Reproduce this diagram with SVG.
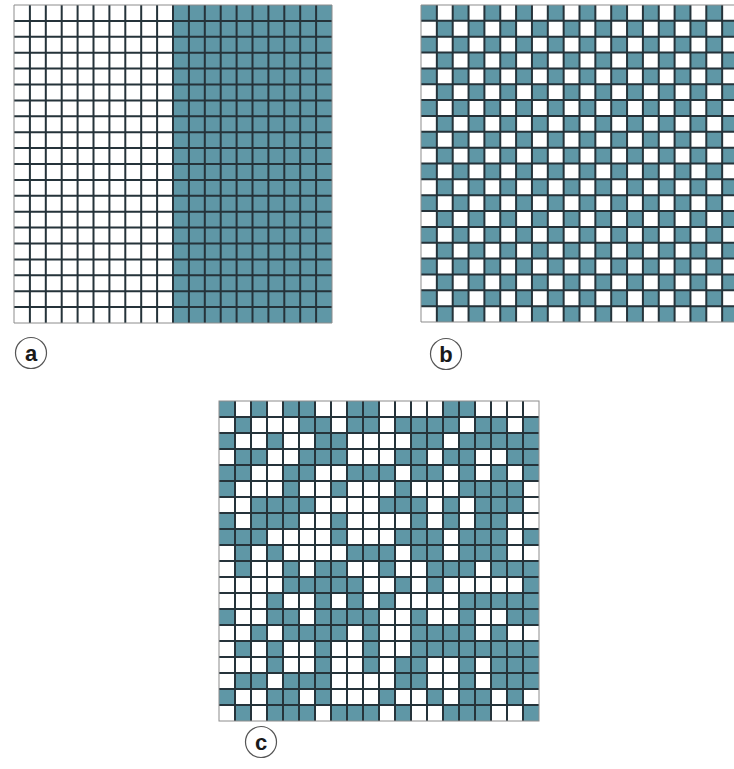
<svg xmlns="http://www.w3.org/2000/svg" xmlns:xlink="http://www.w3.org/1999/xlink" width="734" height="769" viewBox="0 0 734 769">
<style>
.t{fill:#5f97a6}
.gl{fill:none;stroke:#25333a;stroke-width:2}
.bd{fill:none;stroke:#8c8c8c;stroke-width:1}
.lc{fill:#fff;stroke:#555;stroke-width:1.2}
.lt{font-family:"Liberation Sans",Arial,sans-serif;font-weight:bold;font-size:22px;fill:#1a1a1a;text-anchor:middle}
</style>
<defs>
<pattern id="chk" patternUnits="userSpaceOnUse" x="0" y="0" width="32" height="32">
<rect class="t" x="0" y="0" width="16" height="16"/>
<rect class="t" x="16" y="16" width="16" height="16"/>
</pattern>
<path id="gridlines" vector-effect="non-scaling-stroke" d="M16 0V320M32 0V320M48 0V320M64 0V320M80 0V320M96 0V320M112 0V320M128 0V320M144 0V320M160 0V320M176 0V320M192 0V320M208 0V320M224 0V320M240 0V320M256 0V320M272 0V320M288 0V320M304 0V320M0 16H320M0 32H320M0 48H320M0 64H320M0 80H320M0 96H320M0 112H320M0 128H320M0 144H320M0 160H320M0 176H320M0 192H320M0 208H320M0 224H320M0 240H320M0 256H320M0 272H320M0 288H320M0 304H320"/>
</defs>
<rect width="734" height="769" fill="#fff"/>

<g id="grid-a" transform="translate(14,5) scale(0.99375)">
<rect x="0" y="0" width="320" height="320" fill="#fff"/>
<rect class="t" x="160" y="0" width="160" height="320"/>
<use xlink:href="#gridlines" href="#gridlines" class="gl"/>
<rect class="bd" x="0" y="0" width="320" height="320" vector-effect="non-scaling-stroke"/>
</g>

<g id="grid-b" transform="translate(421,5) scale(0.990625)">
<rect x="0" y="0" width="320" height="320" fill="#fff"/>
<rect x="0" y="0" width="320" height="320" fill="url(#chk)"/>
<use xlink:href="#gridlines" href="#gridlines" class="gl"/>
<rect class="bd" x="0" y="0" width="320" height="320" vector-effect="non-scaling-stroke"/>
</g>

<g id="grid-c" transform="translate(219,401)">
<rect x="0" y="0" width="320" height="320" fill="#fff"/>
<g class="t">
<rect x="0" y="0" width="16" height="16"/><rect x="32" y="0" width="16" height="16"/><rect x="64" y="0" width="32" height="16"/><rect x="128" y="0" width="32" height="16"/><rect x="224" y="0" width="32" height="16"/>
<rect x="16" y="16" width="16" height="16"/><rect x="80" y="16" width="32" height="16"/><rect x="128" y="16" width="32" height="16"/><rect x="176" y="16" width="64" height="16"/><rect x="256" y="16" width="32" height="16"/><rect x="304" y="16" width="16" height="16"/>
<rect x="0" y="32" width="16" height="16"/><rect x="48" y="32" width="16" height="16"/><rect x="96" y="32" width="32" height="16"/><rect x="192" y="32" width="32" height="16"/><rect x="240" y="32" width="80" height="16"/>
<rect x="16" y="48" width="32" height="16"/><rect x="80" y="48" width="48" height="16"/><rect x="176" y="48" width="32" height="16"/><rect x="224" y="48" width="32" height="16"/><rect x="288" y="48" width="32" height="16"/>
<rect x="0" y="64" width="32" height="16"/><rect x="64" y="64" width="32" height="16"/><rect x="128" y="64" width="48" height="16"/><rect x="192" y="64" width="32" height="16"/><rect x="240" y="64" width="16" height="16"/><rect x="272" y="64" width="16" height="16"/><rect x="304" y="64" width="16" height="16"/>
<rect x="0" y="80" width="16" height="16"/><rect x="64" y="80" width="16" height="16"/><rect x="112" y="80" width="16" height="16"/><rect x="176" y="80" width="16" height="16"/><rect x="240" y="80" width="64" height="16"/>
<rect x="32" y="96" width="64" height="16"/><rect x="160" y="96" width="48" height="16"/><rect x="224" y="96" width="16" height="16"/><rect x="256" y="96" width="48" height="16"/>
<rect x="0" y="112" width="16" height="16"/><rect x="32" y="112" width="48" height="16"/><rect x="112" y="112" width="16" height="16"/><rect x="192" y="112" width="16" height="16"/><rect x="224" y="112" width="16" height="16"/><rect x="256" y="112" width="32" height="16"/>
<rect x="0" y="128" width="48" height="16"/><rect x="112" y="128" width="16" height="16"/><rect x="176" y="128" width="48" height="16"/><rect x="240" y="128" width="48" height="16"/><rect x="304" y="128" width="16" height="16"/>
<rect x="16" y="144" width="16" height="16"/><rect x="48" y="144" width="16" height="16"/><rect x="128" y="144" width="48" height="16"/><rect x="192" y="144" width="32" height="16"/><rect x="240" y="144" width="48" height="16"/>
<rect x="16" y="160" width="16" height="16"/><rect x="64" y="160" width="16" height="16"/><rect x="96" y="160" width="32" height="16"/><rect x="160" y="160" width="16" height="16"/><rect x="208" y="160" width="48" height="16"/><rect x="272" y="160" width="48" height="16"/>
<rect x="64" y="176" width="80" height="16"/><rect x="176" y="176" width="16" height="16"/><rect x="208" y="176" width="16" height="16"/><rect x="304" y="176" width="16" height="16"/>
<rect x="48" y="192" width="16" height="16"/><rect x="96" y="192" width="16" height="16"/><rect x="128" y="192" width="16" height="16"/><rect x="160" y="192" width="16" height="16"/><rect x="240" y="192" width="80" height="16"/>
<rect x="0" y="208" width="16" height="16"/><rect x="48" y="208" width="32" height="16"/><rect x="96" y="208" width="64" height="16"/><rect x="192" y="208" width="16" height="16"/><rect x="240" y="208" width="16" height="16"/><rect x="288" y="208" width="32" height="16"/>
<rect x="32" y="224" width="16" height="16"/><rect x="64" y="224" width="64" height="16"/><rect x="144" y="224" width="16" height="16"/><rect x="192" y="224" width="64" height="16"/><rect x="272" y="224" width="16" height="16"/>
<rect x="16" y="240" width="16" height="16"/><rect x="48" y="240" width="16" height="16"/><rect x="96" y="240" width="16" height="16"/><rect x="144" y="240" width="16" height="16"/><rect x="192" y="240" width="128" height="16"/>
<rect x="48" y="256" width="16" height="16"/><rect x="96" y="256" width="16" height="16"/><rect x="144" y="256" width="16" height="16"/><rect x="176" y="256" width="32" height="16"/><rect x="240" y="256" width="16" height="16"/><rect x="272" y="256" width="48" height="16"/>
<rect x="16" y="272" width="32" height="16"/><rect x="64" y="272" width="48" height="16"/><rect x="176" y="272" width="32" height="16"/><rect x="240" y="272" width="16" height="16"/><rect x="272" y="272" width="48" height="16"/>
<rect x="0" y="288" width="16" height="16"/><rect x="48" y="288" width="32" height="16"/><rect x="96" y="288" width="16" height="16"/><rect x="160" y="288" width="16" height="16"/><rect x="208" y="288" width="16" height="16"/><rect x="240" y="288" width="32" height="16"/><rect x="288" y="288" width="16" height="16"/>
<rect x="16" y="304" width="16" height="16"/><rect x="48" y="304" width="48" height="16"/><rect x="112" y="304" width="48" height="16"/><rect x="176" y="304" width="16" height="16"/><rect x="224" y="304" width="48" height="16"/><rect x="304" y="304" width="16" height="16"/>
</g>
<use xlink:href="#gridlines" href="#gridlines" class="gl"/>
<rect class="bd" x="0" y="0" width="320" height="320"/>
</g>

<g id="label-a">
<circle class="lc" cx="31" cy="353" r="15.5"/>
<text class="lt" x="31" y="361">a</text>
</g>
<g id="label-b">
<circle class="lc" cx="446" cy="354" r="15.5"/>
<text class="lt" x="446" y="362">b</text>
</g>
<g id="label-c">
<circle class="lc" cx="261" cy="742" r="15.5"/>
<text class="lt" x="261" y="750">c</text>
</g>
</svg>
